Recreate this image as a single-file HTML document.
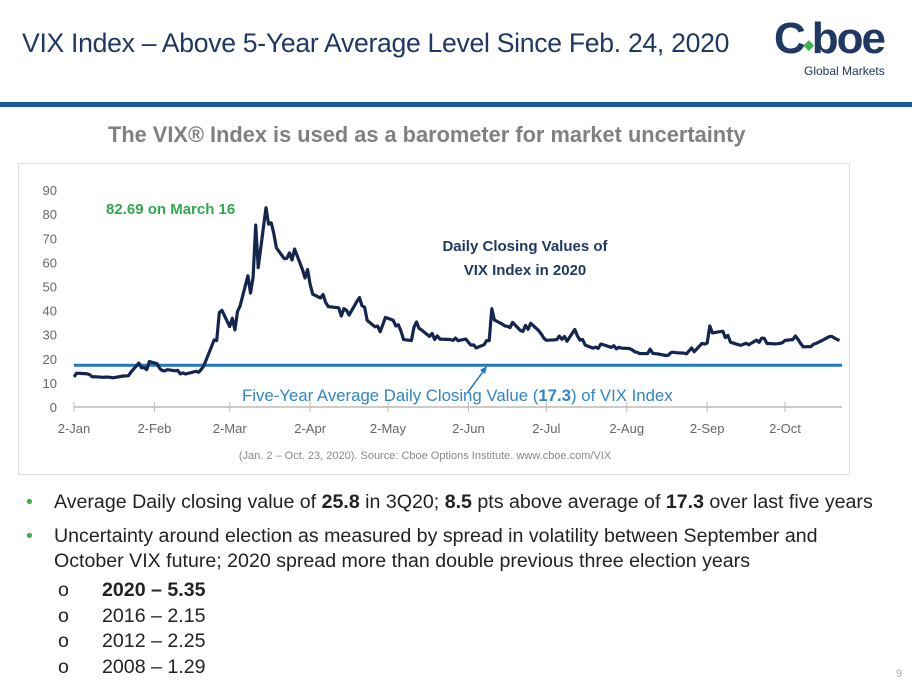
<!DOCTYPE html>
<html><head><meta charset="utf-8"><style>
body{margin:0;width:912px;height:689px;background:#fff;font-family:"Liberation Sans",sans-serif;position:relative;overflow:hidden}
.abs{position:absolute}
</style></head><body>
<div class="abs" style="left:22px;top:28px;font-size:26.6px;color:#1f3864;letter-spacing:-0.3px">VIX Index – Above 5-Year Average Level Since Feb. 24, 2020</div>
<div class="abs" style="left:774px;top:16px;width:130px;height:66px">
  <div style="position:absolute;left:0;top:0;font-size:44px;font-weight:bold;color:#1f3864;letter-spacing:-2px;line-height:46px">C<span style="font-size:13px;color:#3bb54a;vertical-align:top;position:relative;top:6px">◆</span>boe</div>
  <div style="position:absolute;left:30px;top:48px;font-size:12px;color:#1f3864">Global Markets</div>
</div>
<div class="abs" style="left:0;top:102px;width:912px;height:5px;background:#1a5aa0"></div>
<div class="abs" style="left:108px;top:122px;font-size:21.8px;font-weight:bold;color:#808080;white-space:nowrap">The VIX® Index is used as a barometer for market uncertainty</div>
<div class="abs" style="left:18px;top:163px;width:830px;height:310px;border:1px solid #ddd"></div>
<svg class="abs" style="left:0;top:0" width="912" height="689"></svg>
<div class="abs" style="left:26px;top:490px;font-size:19.6px;color:#222;line-height:25px;white-space:nowrap">
<div><span style="color:#3bb54a;display:inline-block;width:28px">•</span>Average Daily closing value of <b>25.8</b> in 3Q20; <b>8.5</b> pts above average of <b>17.3</b> over last five years</div>
<div style="margin-top:9px"><span style="color:#3bb54a;display:inline-block;width:28px">•</span>Uncertainty around election as measured by spread in volatility between September and<br><span style="display:inline-block;width:28px"></span>October VIX future; 2020 spread more than double previous three election years</div>
<div style="margin-left:32px;margin-top:4px;line-height:25.7px">
<div><span style="display:inline-block;width:44px">o</span><b>2020 – 5.35</b></div>
<div><span style="display:inline-block;width:44px">o</span>2016 – 2.15</div>
<div><span style="display:inline-block;width:44px">o</span>2012 – 2.25</div>
<div><span style="display:inline-block;width:44px">o</span>2008 – 1.29</div>
</div></div>
<div class="abs" style="left:896px;top:668px;font-size:11px;color:#aaa">9</div>
<script>
const dates=["01-02","01-03","01-06","01-07","01-08","01-09","01-10","01-13","01-14","01-15","01-16","01-17","01-21","01-22","01-23","01-24","01-27","01-28","01-29","01-30","01-31","02-03","02-04","02-05","02-06","02-07","02-10","02-11","02-12","02-13","02-14","02-18","02-19","02-20","02-21","02-24","02-25","02-26","02-27","02-28","03-02","03-03","03-04","03-05","03-06","03-09","03-10","03-11","03-12","03-13","03-16","03-17","03-18","03-19","03-20","03-23","03-24","03-25","03-26","03-27","03-30","03-31","04-01","04-02","04-03","04-06","04-07","04-08","04-09","04-13","04-14","04-15","04-16","04-17","04-20","04-21","04-22","04-23","04-24","04-27","04-28","04-29","04-30","05-01","05-04","05-05","05-06","05-07","05-08","05-11","05-12","05-13","05-14","05-15","05-18","05-19","05-20","05-21","05-22","05-26","05-27","05-28","05-29","06-01","06-02","06-03","06-04","06-05","06-08","06-09","06-10","06-11","06-12","06-15","06-16","06-17","06-18","06-19","06-22","06-23","06-24","06-25","06-26","06-29","06-30","07-01","07-02","07-06","07-07","07-08","07-09","07-10","07-13","07-14","07-15","07-16","07-17","07-20","07-21","07-22","07-23","07-24","07-27","07-28","07-29","07-30","07-31","08-03","08-04","08-05","08-06","08-07","08-10","08-11","08-12","08-13","08-14","08-17","08-18","08-19","08-20","08-21","08-24","08-25","08-26","08-27","08-28","08-31","09-01","09-02","09-03","09-04","09-08","09-09","09-10","09-11","09-14","09-15","09-16","09-17","09-18","09-21","09-22","09-23","09-24","09-25","09-28","09-29","09-30","10-01","10-02","10-05","10-06","10-07","10-08","10-09","10-12","10-13","10-14","10-15","10-16","10-19","10-20","10-21","10-22","10-23"];
const vix=[12.47,14.02,13.85,13.79,13.45,12.54,12.56,12.32,12.39,12.42,12.32,12.10,12.85,12.91,12.98,14.56,18.23,16.28,16.39,15.49,18.84,17.97,16.05,15.15,14.96,15.47,15.04,15.18,13.74,14.15,13.68,14.83,14.38,15.56,17.08,25.03,27.85,27.56,39.16,40.11,33.42,36.82,31.99,39.62,41.94,54.46,47.30,53.90,75.47,57.83,82.69,75.91,76.45,72.00,66.04,61.59,61.67,63.95,61.00,65.54,57.08,53.54,57.06,50.91,46.80,45.24,46.70,43.35,41.67,41.17,37.76,40.84,40.11,38.15,43.83,45.41,41.98,41.38,35.93,33.29,33.57,31.23,34.15,37.19,35.97,33.61,34.12,31.44,27.98,27.57,33.04,35.28,32.61,31.89,29.30,30.53,27.99,29.53,28.16,28.01,27.62,28.59,27.51,28.23,26.84,25.66,25.81,24.52,25.81,27.57,27.57,40.79,36.09,34.40,33.67,33.47,32.94,35.12,31.77,31.37,33.84,32.22,34.73,31.78,30.43,28.62,27.68,27.94,29.43,28.08,29.26,27.29,32.19,29.52,27.76,28.00,25.68,24.46,24.84,24.32,26.08,25.84,24.74,25.44,24.10,24.76,24.46,24.28,23.76,23.00,22.65,22.21,22.13,24.03,22.28,22.13,22.05,21.35,21.51,22.54,22.72,22.54,22.37,22.03,23.27,24.47,22.96,26.41,26.12,26.57,33.60,30.75,31.46,28.81,29.71,26.87,25.85,25.59,26.04,26.46,25.83,27.78,26.86,28.58,28.51,26.38,26.19,26.27,26.37,26.70,27.63,27.96,29.48,28.06,26.36,25.00,25.07,26.07,26.40,26.97,27.41,29.18,29.35,28.65,28.11,27.55];
const yTicks=[0,10,20,30,40,50,60,70,80,90];
const xTickDates=["01-02","02-02","03-02","04-02","05-02","06-02","07-02","08-02","09-02","10-02"];
const xTickLabels=["2-Jan","2-Feb","2-Mar","2-Apr","2-May","2-Jun","2-Jul","2-Aug","2-Sep","2-Oct"];
const avg=17.3;
const cum=[0,31,60,91,121,152,182,213,244,274];
function doy(s){const m=+s.slice(0,2),d=+s.slice(3);return cum[m-1]+d-2;}
function X(s){return 74+doy(s)*2.595;}
function Y(v){return 407-v*2.41;}
const svg=document.querySelector('svg');const NS="http://www.w3.org/2000/svg";
function mk(t,a,txt){const e=document.createElementNS(NS,t);for(const k in a)e.setAttribute(k,a[k]);if(txt!==undefined)e.textContent=txt;svg.appendChild(e);return e;}
yTicks.forEach(v=>{const t=mk('text',{x:57,y:Y(v)+5,'text-anchor':'end','font-size':13,fill:'#666','font-family':'Liberation Sans'},v);

});
const ax=mk('line',{x1:74,x2:842,y1:407,y2:407,stroke:'#bbb','stroke-width':1.5});


xTickDates.forEach((d,i)=>{mk('line',{x1:X(d),x2:X(d),y1:402,y2:412,stroke:'#bbb'});
const t=mk('text',{x:X(d),y:433,'text-anchor':'middle','font-size':13,fill:'#666','font-family':'Liberation Sans'},xTickLabels[i]);

});
const al=mk('line',{x1:74,x2:842,y1:Y(avg),y2:Y(avg),stroke:'#1f7ac2','stroke-width':3});


const p=mk('polyline',{points:dates.map((d,i)=>X(d).toFixed(1)+','+Y(vix[i]).toFixed(1)).join(' '),fill:'none',stroke:'#14264f','stroke-width':3.2,'stroke-linejoin':'round'});


const ar=mk('line',{x1:468,y1:392,x2:485,y2:369,stroke:'#1f7ac2','stroke-width':1.5});


mk('polygon',{points:'487,366 480,370 485,374',fill:'#1f7ac2'});
const al2=mk('text',{x:242,y:401,'font-size':16.8,fill:'#2e86c8','font-family':'Liberation Sans'});
al2.innerHTML='Five-Year Average Daily Closing Value (<tspan font-weight="bold">17.3</tspan>) of VIX Index';


const pk=mk('text',{x:106,y:214,'font-size':15,'font-weight':'bold',fill:'#2fa84f','font-family':'Liberation Sans'},'82.69 on March 16');


const s1=mk('text',{x:525,y:251,'text-anchor':'middle','font-size':15,'font-weight':'bold',fill:'#1f3864','font-family':'Liberation Sans'},'Daily Closing Values of');


mk('text',{x:525,y:275,'text-anchor':'middle','font-size':15,'font-weight':'bold',fill:'#1f3864','font-family':'Liberation Sans'},'VIX Index in 2020');
const src=mk('text',{x:425,y:459,'text-anchor':'middle','font-size':11,fill:'#888','font-family':'Liberation Sans'},'(Jan. 2 – Oct. 23, 2020).   Source: Cboe Options Institute.   www.cboe.com/VIX');


</script>
</body></html>
